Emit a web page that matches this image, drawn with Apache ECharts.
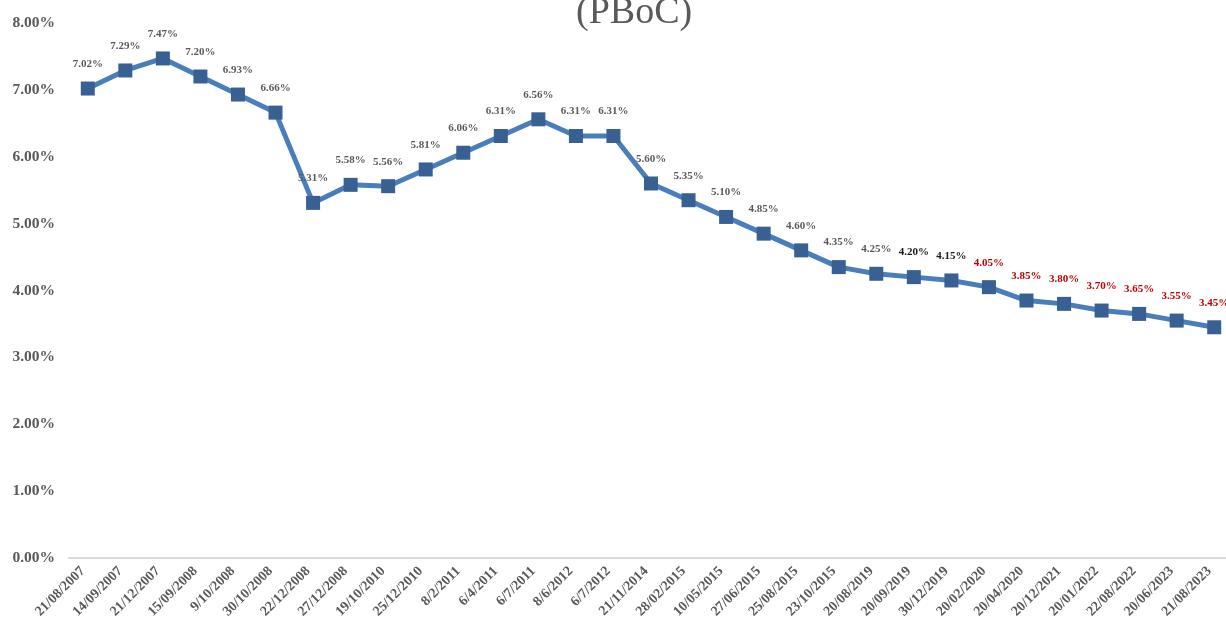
<!DOCTYPE html>
<html><head><meta charset="utf-8">
<script src="https://cdn.jsdelivr.net/npm/echarts@6/dist/echarts.min.js"></script>
<style>html,body{margin:0;padding:0;background:#fff}#c{width:1226px;height:630px}</style>
</head><body><div id="c"></div>
<script>
const categories = ["21/08/2007","14/09/2007","21/12/2007","15/09/2008","9/10/2008","30/10/2008","22/12/2008","27/12/2008","19/10/2010","25/12/2010","8/2/2011","6/4/2011","6/7/2011","8/6/2012","6/7/2012","21/11/2014","28/02/2015","10/05/2015","27/06/2015","25/08/2015","23/10/2015","20/08/2019","20/09/2019","30/12/2019","20/02/2020","20/04/2020","20/12/2021","20/01/2022","22/08/2022","20/06/2023","21/08/2023"];
const rates = [7.02,7.29,7.47,7.20,6.93,6.66,5.31,5.58,5.56,5.81,6.06,6.31,6.56,6.31,6.31,5.60,5.35,5.10,4.85,4.60,4.35,4.25,4.20,4.15,4.05,3.85,3.80,3.70,3.65,3.55,3.45];
const labelGroup = ["g","g","g","g","g","g","g","g","g","g","g","g","g","g","g","g","g","g","g","g","g","g","b","b","r","r","r","r","r","r","r"];
const yTicks = [0,1,2,3,4,5,6,7,8];

const groupColor = {g:'#595959', b:'#1a1a1a', r:'#C00000'};
const serif = '"Liberation Serif","Times New Roman",serif';
const chart = echarts.init(document.getElementById('c'));
chart.setOption({
  animation:false,
  title:{text:'(PBoC)', left:571, top:-11, textStyle:{fontFamily:serif, fontSize:38, fontWeight:'normal', color:'#595959'}},
  grid:{left:69, top:23, width:1164, bottom:72, outerBoundsMode:'none', containLabel:false},
  xAxis:{type:'category', data:categories, boundaryGap:true,
    axisLine:{lineStyle:{color:'#d9d9d9', width:2}}, axisTick:{show:false},
    axisLabel:{rotate:45, interval:0, margin:6, padding:[0,7,0,0], fontFamily:serif, fontWeight:'bold', fontSize:14, color:'#595959'}},
  yAxis:{type:'value', min:yTicks[0], max:yTicks[yTicks.length-1], interval:1,
    splitLine:{show:false}, axisLine:{show:false}, axisTick:{show:false},
    axisLabel:{margin:14, fontFamily:serif, fontWeight:'bold', fontSize:15.5, color:'#595959', formatter:v=>v.toFixed(2)+'%'}},
  series:[{type:'line', data:rates.map((v,i)=>({value:v, label:{color:groupColor[labelGroup[i]]}})),
    lineStyle:{color:'#4A7EBB', width:5}, symbol:'rect', symbolSize:14,
    itemStyle:{color:'#386092', borderColor:'#4A7EBB', borderWidth:0},
    label:{show:true, position:'top', distance:12, fontFamily:serif, fontWeight:'bold', fontSize:11, formatter:p=>p.value.toFixed(2)+'%'}
  }]
});
</script></body></html>
